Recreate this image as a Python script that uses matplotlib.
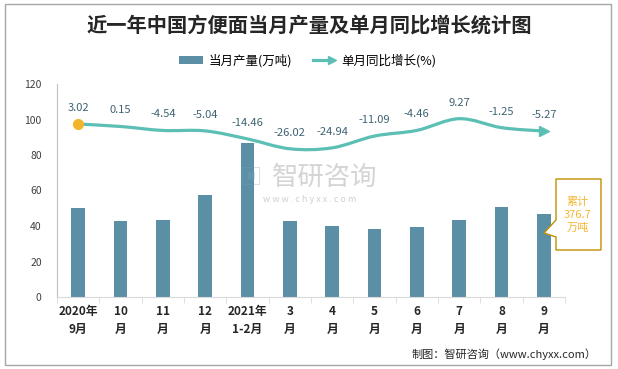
import matplotlib
matplotlib.use("Agg")
import matplotlib.pyplot as plt
from matplotlib.path import Path
from matplotlib.patches import PathPatch, Patch, Polygon, Rectangle
from matplotlib.lines import Line2D
from matplotlib.legend_handler import HandlerBase

plt.rcParams["font.family"] = ["Noto Sans CJK SC", "DejaVu Sans"]

MONTHS = ["2020年\n9月", "10\n月", "11\n月", "12\n月", "2021年\n1-2月", "3\n月",
          "4\n月", "5\n月", "6\n月", "7\n月", "8\n月", "9\n月"]
OUTPUT = [50.1, 42.8, 43.4, 57.5, 86.9, 42.8, 40.0, 38.3, 39.4, 43.4, 50.7, 46.8]
GROWTH = [3.02, 0.15, -4.54, -5.04, -14.46, -26.02, -24.94, -11.09, -4.46, 9.27, -1.25, -5.27]
Y_TICKS = [0, 20, 40, 60, 80, 100, 120]

BAR = "#5B8FA6"
LINE = "#5CBFB5"
ORANGE = "#F4B52A"
LABEL = "#3E6473"
TICK_TEXT = "#404040"
AXIS = "#D9D9D9"

W, H = 618, 369


def px(x, y):
    return x / W, 1 - y / H


def smooth_path(xs, ys):
    # Catmull-Rom style bezier through the points (Excel "smoothed line")
    n = len(xs)
    verts = [(xs[0], ys[0])]
    codes = [Path.MOVETO]
    for i in range(n - 1):
        x0, y0 = xs[max(i - 1, 0)], ys[max(i - 1, 0)]
        x1, y1 = xs[i], ys[i]
        x2, y2 = xs[i + 1], ys[i + 1]
        x3, y3 = xs[min(i + 2, n - 1)], ys[min(i + 2, n - 1)]
        verts += [(x1 + (x2 - x0) / 6, y1 + (y2 - y0) / 6),
                  (x2 - (x3 - x1) / 6, y2 - (y3 - y1) / 6),
                  (x2, y2)]
        codes += [Path.CURVE4] * 3
    return Path(verts, codes)


class ArrowHandler(HandlerBase):
    def create_artists(self, legend, orig, xd, yd, width, height, fontsize, trans):
        y = height / 2 - yd
        line = Line2D([-xd, -xd + width - 3], [y, y], color=LINE, linewidth=2.3,
                      transform=trans)
        head = Line2D([-xd + width - 3], [y], marker=">", markersize=6, color=LINE,
                      linestyle="none", transform=trans)
        return [line, head]


fig = plt.figure(figsize=(W / 100, H / 100), dpi=100)
fig.patches.append(Rectangle(px(5, 365), 606 / W, 361 / H, transform=fig.transFigure,
                             fill=False, edgecolor="#A6A6A6", linewidth=1.0))

left, right = px(57, 0)[0], px(565, 0)[0]
bottom, top = px(0, 297)[1], px(0, 84)[1]
ax = fig.add_axes([left, bottom, right - left, top - bottom])
xs = list(range(len(MONTHS)))

ax.bar(xs, OUTPUT, width=0.33, color=BAR, zorder=2)
ax.set_xlim(-0.5, len(MONTHS) - 0.5)
ax.set_ylim(0, 120)
ax.set_yticks(Y_TICKS)
ax.tick_params(axis="y", length=0, pad=11, labelsize=7.5, labelcolor=TICK_TEXT)
ax.set_xticks(xs)
ax.set_xticklabels(MONTHS, fontsize=8.5, fontweight="bold", color="#262626", linespacing=1.45)
ax.tick_params(axis="x", which="major", length=0, pad=6)
ax.set_xticks([i - 0.5 for i in range(len(MONTHS) + 1)], minor=True)
ax.tick_params(axis="x", which="minor", length=4, color=AXIS)
for side in ("top", "right"):
    ax.spines[side].set_visible(False)
ax.spines["bottom"].set_color(AXIS)
ax.spines["left"].set_color("#BFBFBF")

ax2 = ax.twinx()
ax2.set_ylim(-200, 50)
ax2.axis("off")
ax2.add_patch(PathPatch(smooth_path(xs, GROWTH), fill=False, edgecolor=LINE,
                        linewidth=2.3, capstyle="round", zorder=3))
ax2.plot(xs[-1], GROWTH[-1], marker=">", markersize=7, color=LINE, zorder=4)
ax2.plot(xs[0], GROWTH[0], marker="o", markersize=7, color=ORANGE, zorder=5)
for x, g in zip(xs, GROWTH):
    ax2.annotate(f"{g:.2f}", (x, g), xytext=(0, 8), textcoords="offset points",
                 ha="center", va="bottom", fontsize=8, color=LABEL)

fig.text(*px(309, 25), "近一年中国方便面当月产量及单月同比增长统计图", ha="center",
         va="center", fontsize=14.6, fontweight="bold", color="#262626")

bar_handle = Patch(facecolor=BAR, label="当月产量(万吨)")
line_handle = Line2D([], [], color=LINE, linewidth=2.3, label="单月同比增长(%)")
fig.legend(handles=[bar_handle, line_handle], loc="center", bbox_to_anchor=px(308, 61),
           ncol=2, frameon=False, fontsize=9, handlelength=1.9, handleheight=0.6,
           columnspacing=1.7, handletextpad=0.4,
           handler_map={line_handle: ArrowHandler()})

# watermark
fig.text(*px(325, 177), "智研咨询", ha="center", va="center", fontsize=19,
         color="#A0A0A0", alpha=0.45)
fig.text(*px(251, 177), "▣", ha="center", va="center", fontsize=16,
         color="#7F9FBF", alpha=0.35)
fig.text(*px(310, 199), "w w w . c h y x x . c o m", ha="center", va="center",
         fontsize=6.5, color="#A0A0A0", alpha=0.5)

# cumulative callout
shape = [px(556, 179), px(601, 179), px(601, 250), px(556, 250), px(556, 237),
         px(544, 233), px(556, 220)]
fig.patches.append(Polygon(shape, closed=True, transform=fig.transFigure,
                           facecolor="white", edgecolor="#BF8F00", linewidth=1.0, zorder=6))
fig.text(*px(578, 215), "累计\n376.7\n万吨", ha="center", va="center", fontsize=8,
         color="#F5B731", linespacing=1.4, zorder=7)

fig.text(*px(597, 354), "制图：智研咨询（www.chyxx.com）", ha="right", va="center",
         fontsize=8, color="#262626")

fig.savefig("out.png", dpi=100)
